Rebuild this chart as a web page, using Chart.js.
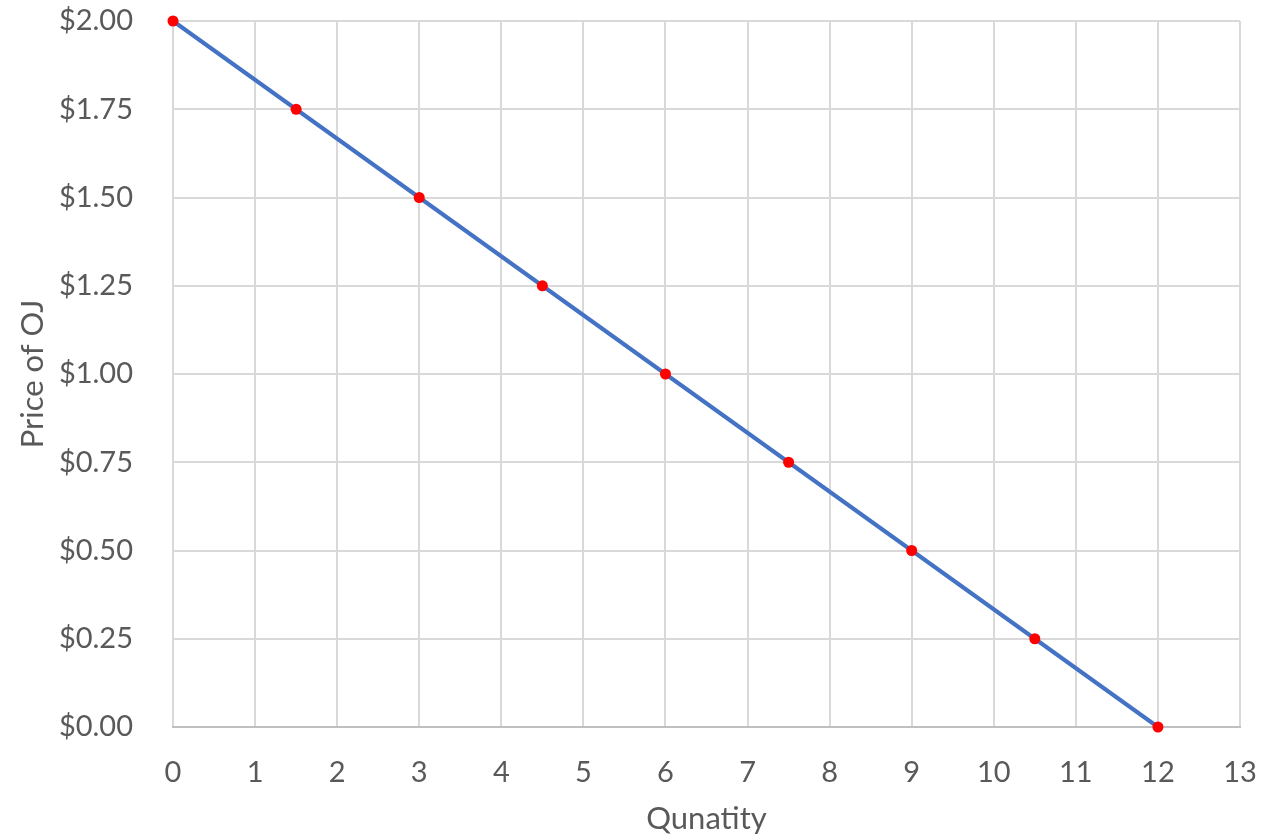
<!DOCTYPE html>
<html>
<head>
<meta charset="utf-8">
<script src="https://cdn.jsdelivr.net/npm/chart.js@4"></script>
<style>
  html, body { margin: 0; padding: 0; background: #fff; }
  #wrap { width: 1262px; height: 839px; }
</style>
</head>
<body>
<div id="wrap"><canvas id="demandChart" width="1262" height="839"></canvas></div>
<script>
// Demand curve for orange juice
const quantities = [0, 1.5, 3, 4.5, 6, 7.5, 9, 10.5, 12];
const prices = [2.0, 1.75, 1.5, 1.25, 1.0, 0.75, 0.5, 0.25, 0.0];
const xTicks = [0, 1, 2, 3, 4, 5, 6, 7, 8, 9, 10, 11, 12, 13];
const yTicks = [0, 0.25, 0.5, 0.75, 1.0, 1.25, 1.5, 1.75, 2.0];

const tickFont = { family: "Lato, 'Open Sans', sans-serif", size: 29 };
const titleFont = { family: "Lato, 'Open Sans', sans-serif", size: 31 };
const textColor = "#595959";

const points = quantities.map((q, i) => ({ x: q, y: prices[i] }));

// drop the automatic label overflow padding so layout.padding sets the plot edges
function noScalePadding(axis) {
  axis.paddingTop = 0;
  axis.paddingBottom = 0;
  axis.paddingLeft = 0;
  axis.paddingRight = 0;
}

new Chart(document.getElementById("demandChart"), {
  type: "scatter",
  data: {
    datasets: [
      {
        label: "Demand",
        data: points,
        showLine: true,
        clip: false,
        borderColor: "#4472c4",
        borderWidth: 4,
        pointRadius: 5.5,
        pointHoverRadius: 5.5,
        pointBackgroundColor: "#ff0000",
        pointBorderWidth: 0,
      },
    ],
  },
  options: {
    responsive: false,
    animation: false,
    layout: { padding: { top: 21, right: 22, left: 0, bottom: 0 } },
    plugins: {
      legend: { display: false },
      tooltip: { enabled: false },
    },
    scales: {
      x: {
        type: "linear",
        min: 0,
        max: 13,
        afterBuildTicks: (axis) => {
          axis.ticks = xTicks.map((v) => ({ value: v }));
        },
        afterFit: (axis) => {
          axis.height = 112;
          noScalePadding(axis);
        },
        grid: { color: "#d9d9d9", lineWidth: 2, drawTicks: false },
        border: { color: "#bfbfbf", width: 2 },
        ticks: { color: textColor, font: tickFont, padding: 28, maxRotation: 0 },
        title: {
          display: true,
          text: "Qunatity",
          color: textColor,
          font: titleFont,
          padding: { top: 0, bottom: 1 },
        },
      },
      y: {
        type: "linear",
        min: 0,
        max: 2,
        afterBuildTicks: (axis) => {
          axis.ticks = yTicks.map((v) => ({ value: v }));
        },
        afterFit: (axis) => {
          axis.width = 173;
          noScalePadding(axis);
        },
        grid: { color: "#d9d9d9", lineWidth: 2, drawTicks: false },
        border: { display: false },
        ticks: {
          color: textColor,
          font: tickFont,
          padding: 40,
          callback: (v) => "$" + Number(v).toFixed(2),
        },
        title: {
          display: true,
          text: "Price of OJ",
          color: textColor,
          font: titleFont,
          padding: { top: 14, bottom: 0 },
        },
      },
    },
  },
});
</script>
</body>
</html>
